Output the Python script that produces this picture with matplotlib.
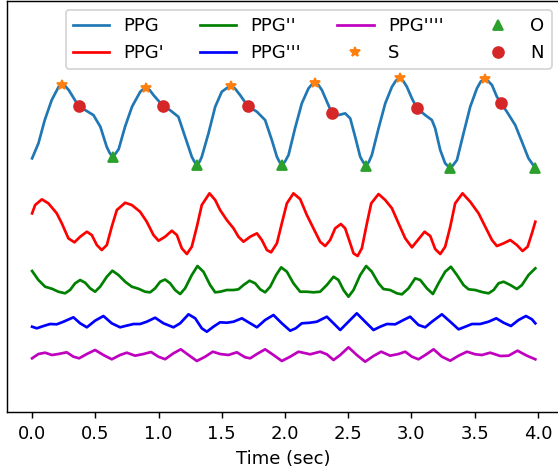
import numpy as np
import matplotlib.pyplot as plt

# PPG waveform (amplitude in arbitrary units)
t_ppg = [0.000, 0.050, 0.100, 0.155, 0.210, 0.235, 0.262, 0.290, 0.368, 0.420,
         0.485, 0.540, 0.590, 0.612, 0.636, 0.660, 0.685, 0.735, 0.790, 0.855,
         0.875, 0.902, 0.930, 0.960, 1.036, 1.090, 1.157, 1.210, 1.263, 1.283,
         1.304, 1.325, 1.342, 1.395, 1.448, 1.500, 1.540, 1.572, 1.605, 1.645,
         1.706, 1.778, 1.843, 1.896, 1.936, 1.955, 1.975, 2.000, 2.028, 2.080,
         2.133, 2.186, 2.212, 2.240, 2.265, 2.292, 2.332, 2.372, 2.423, 2.476,
         2.516, 2.555, 2.595, 2.618, 2.641, 2.663, 2.687, 2.740, 2.793, 2.846,
         2.878, 2.908, 2.936, 2.964, 3.004, 3.044, 3.109, 3.162, 3.188, 3.228,
         3.267, 3.308, 3.330, 3.360, 3.412, 3.465, 3.518, 3.548, 3.578, 3.607,
         3.637, 3.676, 3.710, 3.755, 3.821, 3.874, 3.926, 3.980]
ppg = [253.7, 268.7, 292.0, 312.0, 325.3, 327.5, 326.0, 322.0, 306.0, 302.0,
       297.0, 285.3, 265.3, 259.5, 255.0, 258.5, 263.0, 285.3, 305.3, 320.3,
       322.5, 324.3, 322.0, 317.0, 306.0, 302.0, 295.3, 275.3, 255.3, 250.5,
       247.0, 250.5, 255.3, 278.7, 305.3, 320.3, 324.0, 326.3, 323.5, 317.0,
       306.0, 300.3, 292.0, 272.0, 255.3, 250.5, 247.0, 250.5, 257.0, 284.0,
       308.7, 323.7, 327.5, 329.5, 327.0, 322.0, 310.3, 298.7, 297.0, 298.7,
       293.7, 275.3, 255.3, 250.0, 246.5, 250.0, 257.0, 283.7, 308.7, 325.3,
       331.5, 333.7, 331.0, 325.3, 313.7, 303.7, 297.0, 292.0, 283.7, 262.0,
       248.7, 243.7, 247.0, 252.0, 278.7, 305.3, 323.7, 330.5, 333.0, 331.0,
       327.0, 315.3, 308.7, 300.3, 287.0, 270.3, 253.7, 244.0]

# fiducial points: systolic peak (S), onset (O), dicrotic notch (N)
s_t = [0.235, 0.902, 1.572, 2.240, 2.908, 3.578]
o_t = [0.636, 1.304, 1.975, 2.641, 3.308, 3.980]
n_t = [0.368, 1.036, 1.706, 2.372, 3.044, 3.710]

# first derivative
t_d1 = [0.000, 0.024, 0.077, 0.129, 0.195, 0.235, 0.287, 0.335, 0.380, 0.433,
        0.472, 0.512, 0.551, 0.591, 0.630, 0.670, 0.736, 0.789, 0.854, 0.907,
        0.960, 1.000, 1.052, 1.105, 1.145, 1.184, 1.224, 1.263, 1.303, 1.342,
        1.403, 1.448, 1.487, 1.540, 1.593, 1.632, 1.672, 1.725, 1.778, 1.817,
        1.857, 1.890, 1.936, 1.975, 2.015, 2.067, 2.120, 2.173, 2.225, 2.278,
        2.318, 2.357, 2.397, 2.442, 2.476, 2.516, 2.542, 2.574, 2.608, 2.648,
        2.682, 2.740, 2.793, 2.846, 2.898, 2.951, 3.004, 3.051, 3.104, 3.149,
        3.188, 3.228, 3.267, 3.307, 3.346, 3.404, 3.465, 3.531, 3.584, 3.637,
        3.676, 3.729, 3.782, 3.834, 3.879, 3.919, 3.953, 3.980]
d1 = [198.7, 207.0, 212.7, 208.7, 198.7, 188.7, 173.7, 169.7, 175.3, 180.3,
      177.0, 167.0, 162.0, 167.0, 185.3, 202.0, 209.3, 207.0, 200.3, 190.3,
      177.0, 171.3, 175.3, 181.3, 177.0, 163.7, 158.0, 165.3, 185.3, 207.0,
      218.7, 212.0, 202.0, 192.0, 183.7, 175.3, 170.3, 175.3, 178.7, 172.0,
      162.0, 159.7, 168.7, 188.7, 208.7, 218.7, 213.0, 197.0, 183.7, 170.3,
      166.0, 172.0, 183.7, 188.0, 183.7, 168.7, 158.7, 156.0, 163.7, 188.7,
      208.7, 218.0, 212.0, 203.7, 188.7, 173.7, 164.7, 172.0, 180.3, 176.0,
      163.0, 158.0, 165.3, 185.3, 208.7, 218.7, 210.3, 198.7, 185.3, 172.0,
      166.0, 168.7, 172.0, 167.0, 161.0, 165.3, 178.7, 190.3]

# second derivative
t_d2 = [0.000, 0.050, 0.103, 0.156, 0.208, 0.261, 0.300, 0.340, 0.380, 0.420,
        0.459, 0.498, 0.538, 0.591, 0.635, 0.683, 0.736, 0.789, 0.841, 0.894,
        0.934, 0.973, 1.013, 1.052, 1.092, 1.131, 1.171, 1.210, 1.263, 1.308,
        1.355, 1.408, 1.448, 1.487, 1.540, 1.593, 1.632, 1.672, 1.720, 1.764,
        1.804, 1.843, 1.883, 1.930, 1.970, 2.015, 2.067, 2.120, 2.173, 2.225,
        2.278, 2.331, 2.384, 2.423, 2.463, 2.502, 2.542, 2.595, 2.642, 2.687,
        2.740, 2.779, 2.832, 2.885, 2.925, 2.977, 3.030, 3.070, 3.122, 3.170,
        3.214, 3.267, 3.312, 3.360, 3.412, 3.452, 3.505, 3.558, 3.610, 3.650,
        3.689, 3.729, 3.782, 3.834, 3.874, 3.926, 3.980]
d2 = [141.0, 132.0, 125.3, 123.3, 120.3, 118.7, 122.0, 128.7, 132.0, 129.3,
      123.7, 120.3, 125.3, 135.3, 141.3, 137.0, 130.3, 125.3, 123.3, 120.3,
      119.7, 123.7, 130.3, 132.5, 128.7, 122.0, 118.0, 123.7, 137.0, 146.0,
      140.3, 127.0, 119.7, 120.3, 122.0, 122.0, 122.7, 127.0, 131.3, 128.7,
      122.7, 119.7, 125.3, 137.0, 144.7, 140.3, 128.7, 120.3, 120.3, 119.7,
      120.3, 127.0, 135.3, 132.0, 122.0, 115.3, 122.0, 137.0, 146.0, 140.3,
      128.7, 123.0, 122.0, 118.7, 117.7, 123.7, 133.7, 132.0, 123.7, 118.0,
      128.7, 140.3, 145.3, 137.0, 127.0, 122.7, 122.0, 120.0, 118.7, 122.0,
      128.7, 130.3, 127.0, 123.0, 127.0, 137.0, 143.7]

# third derivative
t_d3 = [0.000, 0.037, 0.090, 0.142, 0.195, 0.248, 0.327, 0.380, 0.433, 0.498,
        0.564, 0.630, 0.696, 0.736, 0.802, 0.854, 0.907, 0.973, 1.039, 1.118,
        1.171, 1.237, 1.290, 1.342, 1.382, 1.434, 1.487, 1.540, 1.593, 1.659,
        1.725, 1.778, 1.843, 1.909, 1.975, 2.041, 2.085, 2.133, 2.199, 2.252,
        2.331, 2.384, 2.437, 2.502, 2.568, 2.634, 2.700, 2.753, 2.806, 2.872,
        2.937, 2.990, 3.056, 3.109, 3.162, 3.241, 3.307, 3.373, 3.426, 3.479,
        3.544, 3.610, 3.671, 3.729, 3.787, 3.847, 3.906, 3.953, 3.980]
d3 = [85.3, 83.7, 86.0, 88.0, 87.7, 90.3, 94.7, 88.7, 84.7, 91.3,
      96.0, 88.7, 84.7, 86.0, 88.0, 88.0, 90.3, 94.3, 88.7, 84.7,
      88.7, 97.7, 93.7, 83.7, 80.3, 85.3, 89.7, 89.3, 90.3, 93.7,
      88.7, 84.7, 92.0, 97.0, 88.7, 81.3, 83.7, 88.7, 89.3, 90.3,
      95.3, 88.7, 82.0, 90.3, 98.7, 90.3, 82.0, 85.3, 88.0, 87.7,
      92.0, 95.3, 87.0, 84.7, 90.3, 97.7, 90.3, 82.7, 85.3, 88.0,
      88.0, 90.3, 93.7, 89.3, 86.0, 92.0, 96.0, 92.7, 88.7]

# fourth derivative
t_d4 = [0.000, 0.050, 0.103, 0.156, 0.208, 0.274, 0.327, 0.372, 0.433, 0.498,
        0.564, 0.630, 0.696, 0.749, 0.815, 0.881, 0.941, 0.999, 1.052, 1.118,
        1.176, 1.237, 1.303, 1.369, 1.429, 1.487, 1.553, 1.619, 1.685, 1.725,
        1.778, 1.843, 1.909, 1.975, 2.041, 2.107, 2.199, 2.278, 2.331, 2.384,
        2.437, 2.502, 2.568, 2.634, 2.700, 2.761, 2.832, 2.898, 2.951, 3.004,
        3.056, 3.122, 3.175, 3.241, 3.307, 3.373, 3.439, 3.505, 3.558, 3.623,
        3.703, 3.768, 3.839, 3.913, 3.980]
d4 = [53.7, 58.0, 59.3, 57.0, 58.0, 59.7, 55.3, 53.7, 58.0, 62.0,
      57.0, 52.7, 57.0, 59.3, 56.3, 58.0, 60.0, 55.3, 52.8, 58.7,
      62.7, 57.0, 51.0, 55.3, 60.3, 58.0, 57.0, 59.7, 54.7, 53.7,
      58.0, 62.7, 57.0, 51.0, 55.3, 60.3, 57.7, 60.3, 57.7, 52.0,
      57.0, 64.7, 57.0, 50.3, 56.0, 60.3, 56.3, 58.0, 60.3, 55.3,
      52.7, 58.0, 62.7, 55.3, 51.3, 56.3, 60.3, 57.7, 57.0, 59.3,
      56.0, 56.3, 61.3, 56.3, 52.7]

t = np.array(t_ppg)
y = np.array(ppg)
s_i = np.searchsorted(t, s_t)
o_i = np.searchsorted(t, o_t)
n_i = np.searchsorted(t, n_t)

fig = plt.figure(figsize=(558 / 130, 468 / 130), dpi=130)
ax = fig.add_axes([0.0122, 0.1197, 0.9925, 0.879])

ax.plot(t, y, color='tab:blue', label='PPG')
ax.plot(t_d1, d1, color='r', label="PPG'")
ax.plot(t_d2, d2, color='g', label="PPG''")
ax.plot(t_d3, d3, color='b', label="PPG'''")
ax.plot(t_d4, d4, color='m', label="PPG''''")
ax.plot(t[s_i], y[s_i], '*', color='tab:orange', label='S')
ax.plot(t[o_i], y[o_i], '^', color='tab:green', label='O')
ax.plot(t[n_i], y[n_i], 'o', color='tab:red', label='N')

ax.set_xlim(-0.2, 4.18)
ax.set_ylim(0, 411.5)
ax.set_xticks(np.arange(0, 4.01, 0.5))
ax.set_yticks([])
ax.set_xlabel('Time (sec)')
ax.legend(loc='upper right', ncol=4)

fig.savefig('out.png', dpi=130)
